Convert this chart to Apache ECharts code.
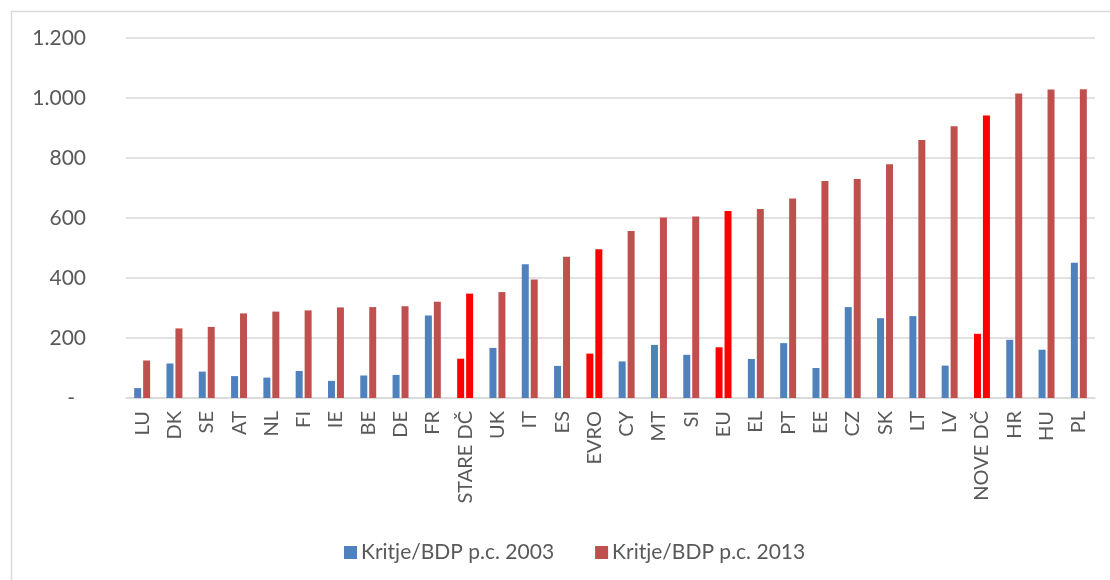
<!DOCTYPE html>
<html>
<head>
<meta charset="utf-8">
<script src="https://cdn.jsdelivr.net/npm/echarts@6/dist/echarts.min.js"></script>
<style>
html,body{margin:0;padding:0;background:#fff;}
#c{width:1110px;height:580px;}
</style>
</head>
<body>
<div id="c"></div>
<script>
var categories = ['LU','DK','SE','AT','NL','FI','IE','BE','DE','FR','STARE DČ','UK','IT','ES','EVRO','CY','MT','SI','EU','EL','PT','EE','CZ','SK','LT','LV','NOVE DČ','HR','HU','PL'];
var values2003 = [33,115,88,73,68,90,57,75,77,275,131,167,446,107,148,122,177,144,169,130,183,100,303,266,273,108,214,194,161,451];
var values2013 = [125,232,237,282,288,292,302,303,306,321,348,353,395,471,496,557,602,605,623,630,665,723,730,779,860,906,942,1015,1028,1029];
var aggregates = ['STARE DČ','EVRO','EU','NOVE DČ'];
var seriesNames = ['Kritje/BDP p.c. 2003','Kritje/BDP p.c. 2013'];

var C2003 = '#4F81BD', C2013 = '#C0504D', CAGG = '#FF0000';
var FONT = 'Lato, "Open Sans", sans-serif';
var TXT = '#595959';

function mk(vals){
  return vals.map(function(v,i){
    var o = {value:v};
    if (aggregates.indexOf(categories[i]) >= 0) o.itemStyle = {color:CAGG};
    return o;
  });
}
function fmt(v){
  if (v === 0) return '{z|-}';
  return String(v).replace(/\B(?=(\d{3})+(?!\d))/g,'.');
}

var chart = echarts.init(document.getElementById('c'), null, {renderer:'canvas'});
chart.setOption({
  animation:false,
  backgroundColor:'#fff',
  textStyle:{fontFamily:FONT},
  graphic:[{
    type:'rect', left:9, top:9, silent:true,
    shape:{x:0,y:0,width:1200,height:1000},
    style:{fill:'none', stroke:'#D9D9D9', lineWidth:1.5}
  }],
  grid:{left:126, right:15, top:38, bottom:182, containLabel:false},
  legend:{
    left:339, top:537,
    itemWidth:13, itemHeight:13, itemGap:41,
    icon:'rect',
    textStyle:{color:TXT, fontSize:21, fontFamily:FONT, padding:[0,0,0,-1]},
    data:seriesNames
  },
  xAxis:{
    type:'category', data:categories,
    axisLine:{lineStyle:{color:'#D9D9D9', width:1.5}},
    axisTick:{show:false},
    axisLabel:{rotate:90, interval:0, margin:13, color:TXT, fontSize:20, fontFamily:FONT}
  },
  yAxis:{
    type:'value', min:0, max:1200, interval:200,
    axisLine:{show:false}, axisTick:{show:false},
    splitLine:{lineStyle:{color:'#D9D9D9', width:1.5}},
    axisLabel:{
      margin:40, color:TXT, fontSize:21, fontFamily:FONT,
      formatter:fmt,
      rich:{z:{color:TXT, fontSize:21, fontFamily:FONT, padding:[0,11,0,0]}}
    }
  },
  series:[
    {name:seriesNames[0], type:'bar', data:mk(values2003), itemStyle:{color:C2003}, barWidth:7, barGap:'28%'},
    {name:seriesNames[1], type:'bar', data:mk(values2013), itemStyle:{color:C2013}, barWidth:7, barGap:'28%'}
  ]
});
</script>
</body>
</html>
